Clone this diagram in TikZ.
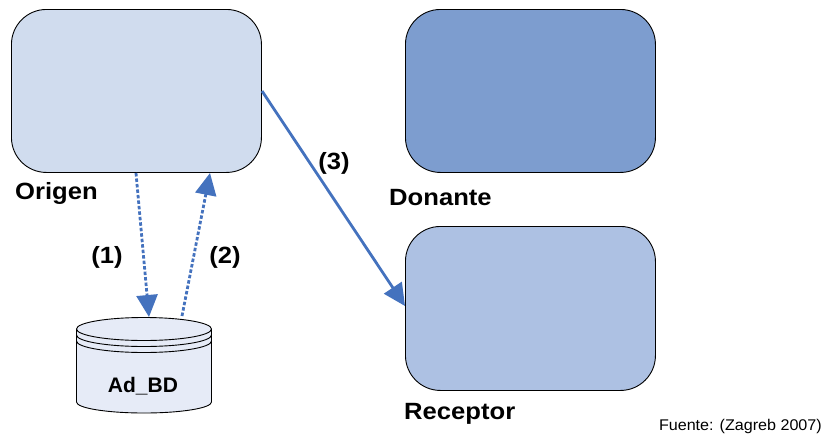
\documentclass[tikz,border=0pt]{standalone}
\usepackage{fontspec}
\setmainfont{Liberation Sans}
\usetikzlibrary{arrows.meta}
\definecolor{boxa}{HTML}{D0DCEE}
\definecolor{boxb}{HTML}{7D9DCF}
\definecolor{boxc}{HTML}{ADC1E3}
\definecolor{cyl}{HTML}{E6EBF7}
\definecolor{link}{HTML}{4472BE}
\tikzset{
  x=1pt,y=-1pt,
  panel/.style={draw=black,line width=0.9pt,rounded corners=35pt,minimum width=250pt,minimum height=163pt,inner sep=0pt,anchor=north west},
  big/.style={font=\bfseries\fontsize{23.5}{26}\selectfont,xscale=1.09,inner sep=0pt},
  biglbl/.style={big,anchor=base west},
  small/.style={font=\fontsize{15.5}{17}\selectfont,xscale=1.04,inner sep=0pt,anchor=base east},
  flow/.style={draw=link,line width=2.8pt,-{Triangle[length=22pt,width=21pt,fill=link]}},
  dflow/.style={flow,dash pattern=on 3.5pt off 2pt},
}
\begin{document}
\begin{tikzpicture}
\useasboundingbox (0,0) rectangle (825,434);
\node[panel,fill=boxa] (origen) at (11,9) {};
\node[panel,fill=boxb] (donante) at (405,9) {};
\node[panel,fill=boxc,minimum height=164pt] (receptor) at (405,226) {};
\node[biglbl] (lo) at (15,199) {Origen};
\node[biglbl] (ld) at (389,205) {Donante};
\node[biglbl] (lr) at (404,419) {Receptor};
\node[small] (src) at (822,430) {Fuente: (Zagreb 2007)};
% database
\filldraw[fill=cyl,draw=black,line width=0.9pt] (76.5,329) -- (76.5,402) arc[start angle=180,end angle=360,x radius=67.5pt,y radius=11pt] -- (211.5,329) arc[start angle=0,end angle=180,x radius=67.5pt,y radius=11.5pt] -- cycle;
\draw[black,line width=0.9pt] (76.5,329) arc[start angle=180,end angle=360,x radius=67.5pt,y radius=11.5pt];
\draw[black,line width=0.9pt] (76.5,335) arc[start angle=180,end angle=360,x radius=67.5pt,y radius=11.5pt];
\draw[black,line width=0.9pt] (76.5,341) arc[start angle=180,end angle=360,x radius=67.5pt,y radius=11.5pt];
\node[font=\bfseries\fontsize{21}{23}\selectfont,inner sep=0pt,anchor=base] (db) at (143,392) {Ad\_BD};
\coordinate (a1) at (136,173);
\coordinate (b1) at (149,317);
\coordinate (a2) at (182,316);
\coordinate (b2) at (210,173);
\coordinate (a3) at (262,91);
\coordinate (b3) at (405,306);
\path[dflow] (a1) -- (b1);
\path[dflow] (a2) -- (b2);
\path[flow] (a3) -- (b3);
\node[big] (n1) at (107,257) {(1)};
\node[big] (n2) at (225,257) {(2)};
\node[big] (n3) at (334,163) {(3)};
\end{tikzpicture}
\end{document}
